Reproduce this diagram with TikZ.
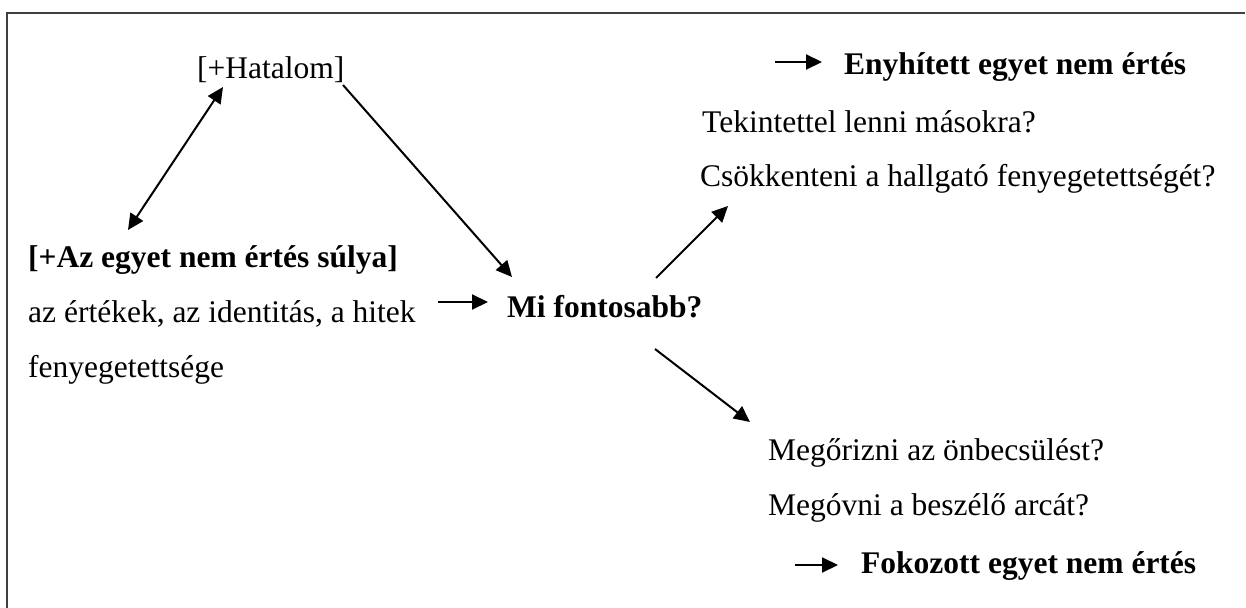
\documentclass[tikz,border=0pt]{standalone}
\usepackage{fontspec}
\setmainfont{Liberation Serif}
\usetikzlibrary{arrows.meta}
\begin{document}
\begin{tikzpicture}[x=1pt,y=-1pt,
  txt/.style={anchor=base west,inner sep=0pt,font=\fontsize{31.5}{36}\selectfont},
  btxt/.style={txt,font=\fontsize{31.5}{36}\selectfont\bfseries},
  arr/.style={line width=2pt,-{Triangle[length=16pt,width=15pt]}},
  darr/.style={line width=2pt,{Triangle[length=16pt,width=15pt]}-{Triangle[length=16pt,width=15pt]}},
  frame/.style={line width=2pt,draw=black!75}]
\useasboundingbox (0,0) rectangle (1246,607);
\draw[frame] (7,608) -- (7,13) -- (1245,13);
% text nodes
\node[txt]  (hat)  at (197,79)  {[+Hatalom]};
\node[btxt] (sul)  at (28,267)  {[+Az egyet nem értés súlya]};
\node[txt]  (ert)  at (28,322)  {az értékek, az identitás, a hitek};
\node[txt]  (fen)  at (28,377)  {fenyegetettsége};
\node[btxt] (mi)   at (507,317) {Mi fontosabb?};
\node[btxt] (enyh) at (844,75)  {Enyhített egyet nem értés};
\node[txt]  (tek)  at (702,132) {Tekintettel lenni másokra?};
\node[txt]  (csok) at (700,186) {Csökkenteni a hallgató fenyegetettségét?};
\node[txt]  (meg1) at (768,460) {Megőrizni az önbecsülést?};
\node[txt]  (meg2) at (768,515) {Megóvni a beszélő arcát?};
\node[btxt] (fok)  at (861,573) {Fokozott egyet nem értés};
% connector end points
\coordinate (d1) at (128,230);
\coordinate (d2) at (223,87);
\coordinate (h1) at (343,85);
\coordinate (h2) at (512,277);
\coordinate (e1) at (438,302);
\coordinate (e2) at (488,302);
\coordinate (u1) at (656,278);
\coordinate (u2) at (728,206);
\coordinate (w1) at (655,349);
\coordinate (w2) at (750,422);
\coordinate (n1) at (775,62);
\coordinate (n2) at (822,62);
\coordinate (f1) at (795,565);
\coordinate (f2) at (838,565);
% connectors
\draw[darr] (d1) -- (d2);
\draw[arr] (h1) -- (h2);
\draw[arr] (e1) -- (e2);
\draw[arr] (u1) -- (u2);
\draw[arr] (w1) -- (w2);
\draw[arr] (n1) -- (n2);
\draw[arr] (f1) -- (f2);
\end{tikzpicture}
\end{document}
